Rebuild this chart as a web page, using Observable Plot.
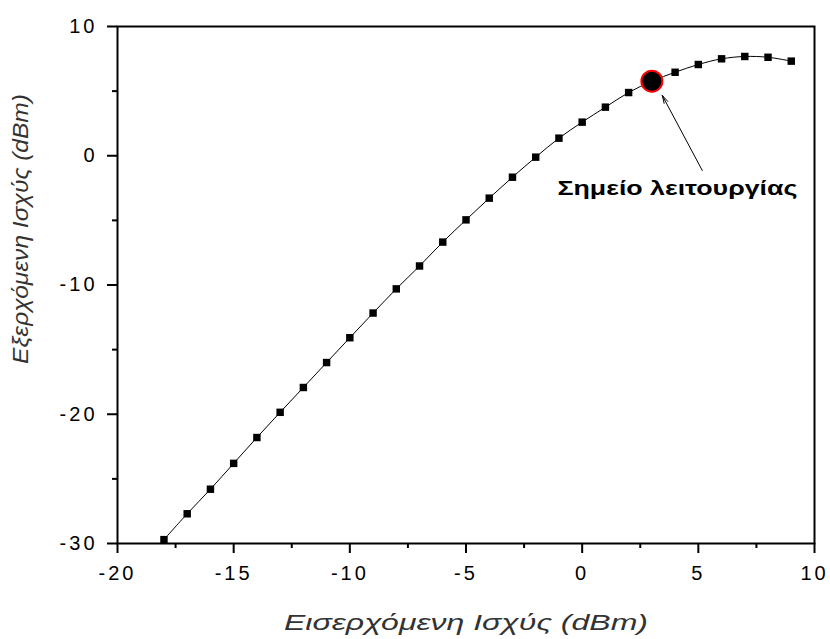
<!DOCTYPE html>
<html><head><meta charset="utf-8">
<script src="https://cdn.jsdelivr.net/npm/d3@7"></script>
<script src="https://cdn.jsdelivr.net/npm/@observablehq/plot@0.6"></script>
<style>
body{margin:0;background:#fff}
g[aria-label="x-axis tick label"] text, g[aria-label="y-axis tick label"] text {letter-spacing:3px}
</style>
</head><body><div id="chart"></div>
<script>
const inputPower = [-18,-17,-16,-15,-14,-13,-12,-11,-10,-9,-8,-7,-6,-5,-4,-3,-2,-1,0,1,2,3,4,5,6,7,8,9];
const outputPower = [-29.7,-27.7,-25.8,-23.8,-21.8,-19.85,-17.93,-16.0,-14.08,-12.17,-10.3,-8.53,-6.68,-4.96,-3.28,-1.66,-0.11,1.36,2.6,3.76,4.89,5.77,6.46,7.06,7.5,7.68,7.62,7.32];
const xTicks = [-20,-15,-10,-5,0,5,10];
const xMinorTicks = [-17.5,-12.5,-7.5,-2.5,2.5,7.5];
const yTicks = [-30,-20,-10,0,10];
const yMinorTicks = [-25,-15,-5,5];
const operatingPoint = [{x: 3, y: 5.77}];
const annotation = [{x: 4.1, y: -2.55, text: "Σημείο λειτουργίας"}];
const arrowSeg = [{x1: 5.17, y1: -1.14, x2: 3.45, y2: 4.66}];
const xTitle = ["Εισερχόμενη Ισχύς (dBm)"];
const yTitle = ["Εξερχόμενη Ισχύς (dBm)"];

const data = inputPower.map((x, i) => ({x, y: outputPower[i]}));
const fmt = d => String(d);

const chart = Plot.plot({
  width: 830, height: 639,
  marginLeft: 117, marginRight: 16, marginTop: 26, marginBottom: 96,
  style: {fontFamily: "'Liberation Sans', Arial, sans-serif", fontSize: "20px", color: "#000", background: "#fff"},
  x: {domain: [-20, 10]},
  y: {domain: [-30, 10]},
  marks: [
    Plot.frame({stroke: "#000", strokeWidth: 2}),
    Plot.axisX(xTicks, {tickSize: 10, tickPadding: 12, strokeWidth: 2, label: null, strokeOpacity: 1, tickFormat: fmt}),
    Plot.axisX(xMinorTicks, {tickSize: 5, strokeWidth: 2, strokeOpacity: 1, tickFormat: () => "", label: null}),
    Plot.axisY(yTicks, {tickSize: 10, tickPadding: 10, strokeWidth: 2, label: null, strokeOpacity: 1, tickFormat: fmt}),
    Plot.axisY(yMinorTicks, {tickSize: 5, strokeWidth: 2, strokeOpacity: 1, tickFormat: () => "", label: null}),
    Plot.line(data, {x: "x", y: "y", stroke: "#000", strokeWidth: 1, curve: "catmull-rom"}),
    Plot.dot(data, {x: "x", y: "y", symbol: "square", fill: "#000", r: 4.2}),
    Plot.dot(operatingPoint, {x: "x", y: "y", r: 10.5, fill: "#000", stroke: "#ff0000", strokeWidth: 2}),
    Plot.arrow(arrowSeg, {x1: "x1", y1: "y1", x2: "x2", y2: "y2", stroke: "#000", strokeWidth: 1, headLength: 12, headAngle: 30}),
    Plot.text(annotation, {x: "x", y: "y", text: "text", fontWeight: "bold", fontSize: 20}),
    Plot.text(xTitle, {frameAnchor: "bottom", lineAnchor: "middle", textAnchor: "middle", dy: 79, text: d => d, fontStyle: "italic", fontSize: 22, fill: "#333"}),
    Plot.text(yTitle, {frameAnchor: "left", textAnchor: "middle", lineAnchor: "middle", dx: -97, dy: -56, rotate: -90, text: d => d, fontStyle: "italic", fontSize: 22, fill: "#333"})
  ]
});
document.getElementById("chart").appendChild(chart);
const fit = (str, len) => d3.select(chart).selectAll("text")
  .filter(function() { return this.textContent === str; })
  .attr("textLength", len).attr("lengthAdjust", "spacingAndGlyphs");
fit(annotation[0].text, 240);
fit(xTitle[0], 364);
fit(yTitle[0], 270);
</script>
</body></html>
